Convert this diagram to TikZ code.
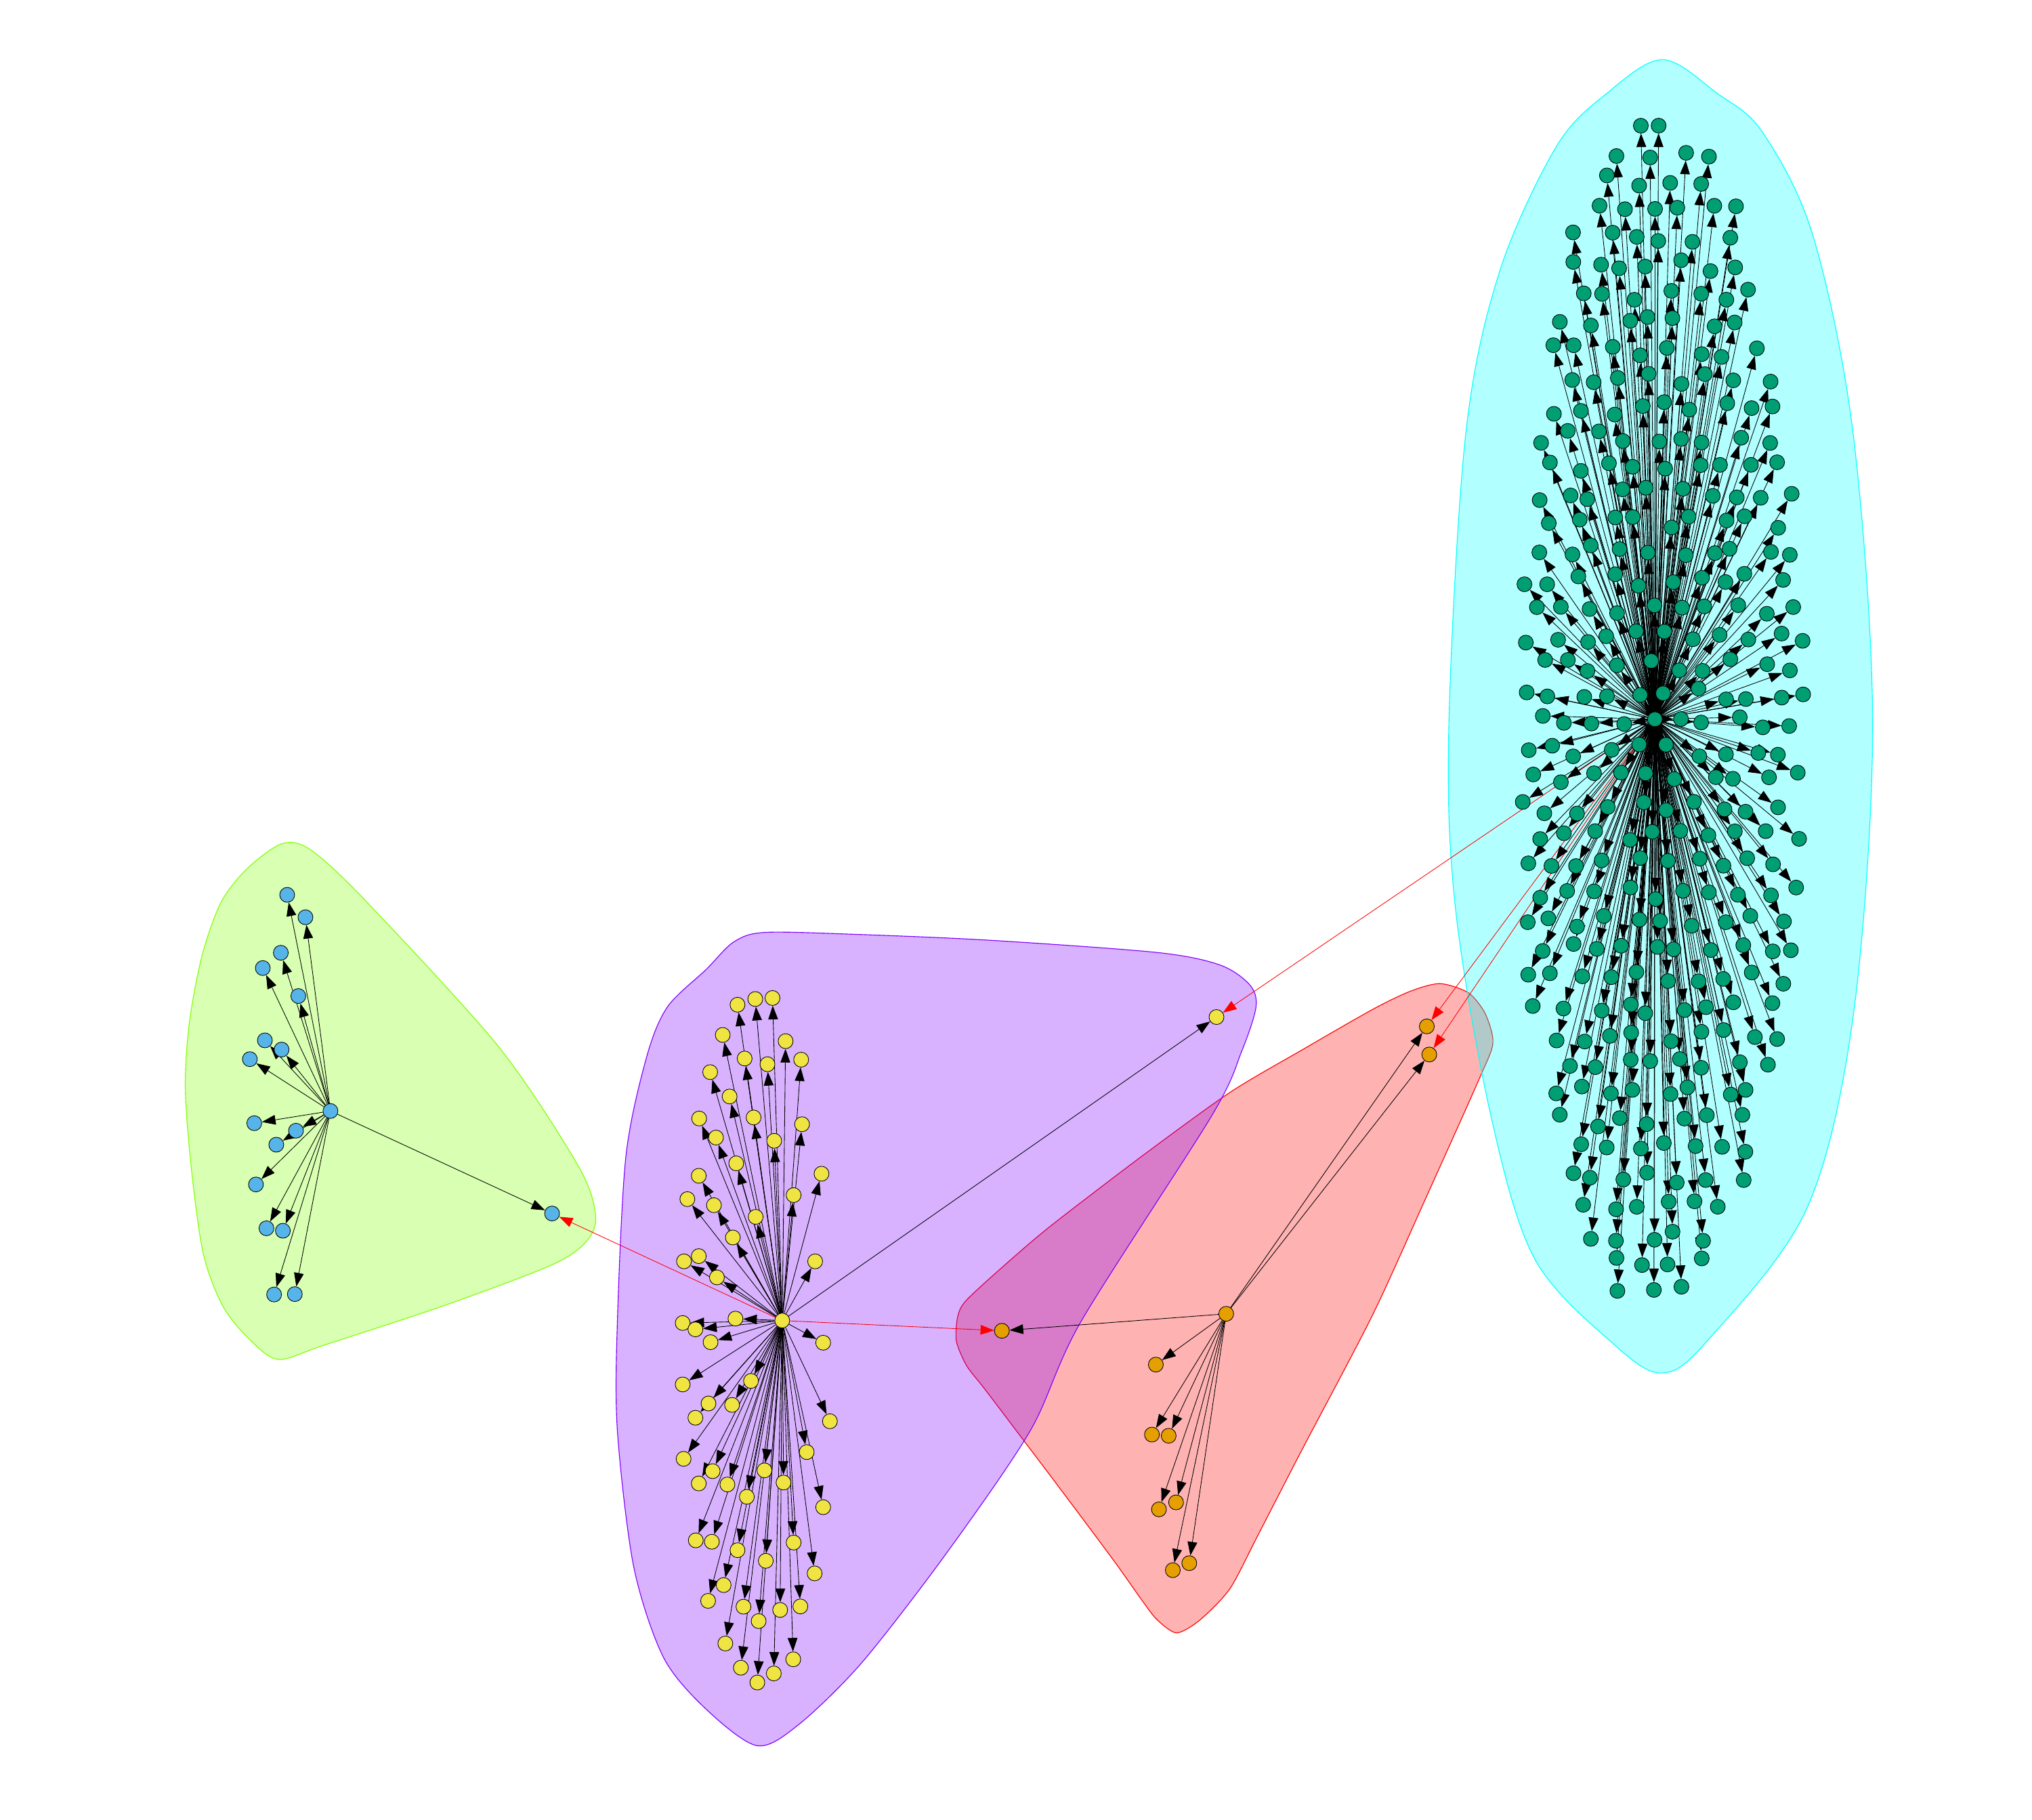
\documentclass[tikz,border=0pt]{standalone}
\usetikzlibrary{arrows.meta}
\pgfdeclarelayer{hulls}
\pgfdeclarelayer{edges}
\pgfsetlayers{hulls,edges,main}
\definecolor{cBlue}{HTML}{56B4E9}
\definecolor{cYellow}{HTML}{F0E442}
\definecolor{cOrange}{HTML}{E69F00}
\definecolor{cGreen}{HTML}{009E73}
\definecolor{hGreen}{HTML}{80FF00}
\definecolor{hRed}{HTML}{FF0000}
\definecolor{hCyan}{HTML}{00FFFF}
\definecolor{hPurple}{HTML}{8000FF}
\def\bluelist{221.6/690.5,235.7/707.8,216.7/735.2,202.8/747,230.2/768.6,
 204.4/802.8,217.3/809.9,192.8/817.3,196.2/866.7,228.4/872.5,213.2/883.3,197.5/914,
 205.6/947.8,218.3/949.7,211.5/998.9,227.5/998.6}
\def\yellowlist{569.1/775.3,582.8/770.9,596.1/770.1,557.7/798.6,606.2/803.4,
 574.6/816.8,592.2/821.2,618.2/817.7,548/827.3,563/846.1,581.5/862.3,618.9/867.5,
 539.5/863.1,552.5/877.8,597.4/880.3,568.1/897.7,539.2/907.3,633.9/905.7,530.4/925.3,
 550.9/930,612.4/922.2,583.1/939,565.5/954.9,527.8/973.3,539.2/969.3,553.2/985.7,
 629/973.3,526.8/1020.9,536.6/1025.8,567.5/1017.5,548.3/1035.7,635.2/1036.1,
 526.8/1068.3,579.5/1065.6,546.7/1083,564.9/1084.1,536.6/1094,640.4/1096.7,527.5/1125.7,
 622.5/1120.5,549.9/1135.2,539.2/1144.7,561.3/1145.5,589.9/1134.6,604.6/1144,576.3/1155,
 635.2/1163,536.9/1188.6,549.3/1189.7,569.1/1196.2,612.4/1190.3,590.9/1204.4,628.6/1214.1,
 558.4/1223.1,546.4/1235.3,573.7/1239.8,602/1242.3,617.6/1239.6,585.4/1250.9,559.7/1268.2,
 612.1/1280.4,571.7/1286.9,597.1/1291.3,584.4/1298.3}
\def\orangelist{891.9/1053,888.9/1107,901.8/1107.9,894.3/1164.7,907.5/1159.3,
 905/1211.6,917.7/1206.2}
\begin{document}
\begin{tikzpicture}[x=1pt,y=-1pt,
  vtx/.style={circle, draw=black, line width=0.45pt, inner sep=0pt, minimum size=11.5pt},
  bn/.style={vtx, fill=cBlue},
  yn/.style={vtx, fill=cYellow},
  on/.style={vtx, fill=cOrange},
  gn/.style={vtx, fill=cGreen},
  lnk/.style={draw=black, line width=0.45pt, -{Triangle[length=10.5pt,width=7.5pt]}},
  rlnk/.style={lnk, draw=red},
  hull/.style={line width=0.6pt, fill opacity=0.3}]
\useasboundingbox (0,0) rectangle (1568,1404);
\begin{pgfonlayer}{hulls}
\fill[white] (0,0) rectangle (1568,1404);
\draw[hull, draw=hGreen, fill=hGreen] plot[smooth cycle, tension=0.5] coordinates {
 (217.7,651) (191,670) (170.7,696) (156,737) (146,790) (143,841) (148,905) (157,968)
 (172,1008) (193,1034) (215,1049) (250,1038) (344,1007) (426,976) (452.5,958) (459.6,938)
 (446.4,900) (385,808) (283,696) (240,656)};
\draw[hull, draw=hRed, fill=hRed] plot[smooth cycle, tension=0.45] coordinates {
 (746,1003) (780,972) (812,945) (880,893) (949,843) (1005,810) (1059,779) (1088,765)
 (1111,759) (1133,766) (1146,782) (1152,805) (1141,833.5) (1100,925) (1059,1015)
 (1004,1120) (970,1186) (949,1226) (926,1250) (908,1260) (893,1250) (882,1236)
 (860,1205) (822,1154) (785,1105) (760,1072) (746,1054) (738,1035) (739,1016)};
\draw[hull, draw=hCyan, fill=hCyan] plot[smooth cycle, tension=0.55] coordinates {
 (1282.8,46) (1325,72) (1360,102) (1399,182) (1430,335) (1445,560) (1430,784) (1394,933)
 (1318,1034) (1282.6,1059.5) (1245,1037) (1184,971) (1150,859) (1123,700) (1118,560)
 (1131,335) (1157,210) (1201,113) (1240,72)};
\draw[hull, draw=hPurple, fill=hPurple] plot[smooth cycle, tension=0.5] coordinates {
 (660,721) (763,725.5) (893,735) (941.6,744.7) (964.4,760) (969.2,777) (958,811.6)
 (935,861) (834,1020) (795,1104) (730,1199) (665,1283) (616,1331) (584,1347) (545,1319)
 (512,1279) (489,1209) (476.4,1104) (476.4,1020) (483,892) (499,815.5) (515,777)
 (545,748) (566,727) (590,719.5)};
\end{pgfonlayer}
% hubs and special nodes
\node[bn] (B0) at (255,857.3) {};
\node[bn] (bT) at (426,936.4) {};
\node[yn] (Y0) at (603.6,1019) {};
\node[yn] (yT) at (938.7,784.8) {};
\node[on] (O0) at (946.2,1013.8) {};
\node[on] (oT) at (773.1,1026.9) {};
\node[on] (o1) at (1101,792) {};
\node[on] (o2) at (1102.9,813.7) {};
\node[gn] (G0) at (1277,555) {};
% leaves
\foreach \px/\py [count=\i] in \bluelist {\node[bn] (b\i) at (\px,\py) {};}
\foreach \px/\py [count=\i] in \yellowlist {\node[yn] (y\i) at (\px,\py) {};}
\foreach \px/\py [count=\i] in \orangelist {\node[on] (ox\i) at (\px,\py) {};}
% green leaves (dense star)
\gdef\gnames{}
\pgfmathsetseed{4242}
\foreach \gr in {0,...,41}{
 \foreach \gc in {0,...,11}{
  \pgfmathsetmacro\gY{95+\gr*22+5*rand}
  \pgfmathsetmacro\gX{1280+(\gc-5.5)*22+(mod(\gr,2)-0.5)*11+6*rand}
  \pgfmathsetmacro\gT{(\gY-555)/470}
  \pgfmathsetmacro\gW{112*sqrt(max(0,1-\gT*\gT))}
  \pgfmathtruncatemacro\gOK{and(abs(\gX-1280)<\gW, or(abs(\gX-1277)>16, abs(\gY-555)>16))}
  \ifnum\gOK=1
   \node[gn] (g\gr-\gc) at (\gX,\gY) {};
   \ifx\gnames\empty\xdef\gnames{g\gr-\gc}\else\xdef\gnames{\gnames,g\gr-\gc}\fi
  \fi
 }
}
\begin{pgfonlayer}{edges}
\draw[lnk] (B0) -- (bT);
\draw[rlnk] (Y0) -- (bT);
\draw[lnk] (Y0) -- (yT);
\draw[rlnk] (G0) -- (yT);
\draw[lnk] (O0) -- (oT);
\draw[rlnk] (Y0) -- (oT);
\draw[lnk] (O0) -- (o1);
\draw[lnk] (O0) -- (o2);
\draw[rlnk] (G0) -- (o1);
\draw[rlnk] (G0) -- (o2);
\foreach \i in {1,...,16} {\draw[lnk] (B0) -- (b\i);}
\foreach \i in {1,...,64} {\draw[lnk] (Y0) -- (y\i);}
\foreach \i in {1,...,7} {\draw[lnk] (O0) -- (ox\i);}
\foreach \n in \gnames {\draw[lnk] (G0) -- (\n);}
\end{pgfonlayer}
\end{tikzpicture}
\end{document}
